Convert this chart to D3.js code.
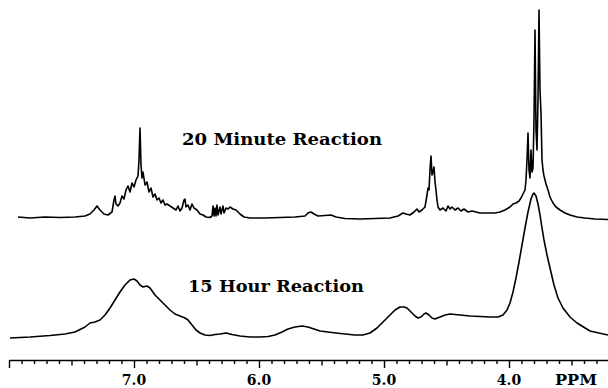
<!DOCTYPE html>
<html><head><meta charset="utf-8">
<script src="https://cdn.jsdelivr.net/npm/d3@7"></script>
<style>body{margin:0;background:#fff}svg{display:block}</style>
</head><body>
<script>
// ---- Data (chemical shift in ppm, intensity in arbitrary units above trace baseline) ----
const ppm20min = [7.928,7.832,7.712,7.592,7.472,7.392,7.352,7.320,7.296,7.272,7.240,7.208,7.176,7.160,7.152,7.144,7.128,7.112,7.096,7.080,7.064,7.048,7.032,7.016,7.000,6.984,6.968,6.960,6.952,6.944,6.936,6.928,6.912,6.896,6.880,6.864,6.848,6.832,6.816,6.800,6.784,6.768,6.752,6.736,6.712,6.688,6.664,6.648,6.632,6.616,6.600,6.592,6.584,6.568,6.552,6.536,6.520,6.496,6.472,6.448,6.424,6.392,6.376,6.368,6.360,6.352,6.344,6.336,6.328,6.312,6.304,6.288,6.280,6.264,6.248,6.232,6.208,6.184,6.152,6.120,6.072,5.952,5.832,5.712,5.632,5.608,5.584,5.560,5.528,5.472,5.424,5.384,5.312,5.192,5.072,4.952,4.888,4.848,4.824,4.792,4.760,4.736,4.720,4.696,4.672,4.656,4.648,4.640,4.632,4.624,4.616,4.608,4.600,4.592,4.584,4.576,4.568,4.552,4.528,4.504,4.488,4.472,4.456,4.432,4.408,4.384,4.360,4.328,4.296,4.264,4.232,4.192,4.152,4.112,4.072,4.032,3.992,3.968,3.944,3.920,3.904,3.888,3.872,3.864,3.856,3.848,3.840,3.832,3.824,3.816,3.808,3.800,3.792,3.784,3.776,3.768,3.760,3.752,3.744,3.736,3.728,3.720,3.704,3.688,3.672,3.648,3.624,3.592,3.552,3.512,3.456,3.392,3.312,3.208];
const int20min = [0,-1,0,-0.5,0,1,3,7,11,7,3,2,5,17,21,13,11,14,21,18,27,31,25,34,30,37,41,57,89,52,39,45,32,35,25,29,20,23,17,19,14,17,12,13,11,9,7,11,6,9,17,18,10,12,7,13,9,7,3,2,0,-0.5,1,11,1,9,1,12,2,10,3,11,4,9,8,10,8,7,3,0,-1,-1,-0.5,0,1,4,5,3,1,1.5,2,0,-1.5,-2,-1.5,-1,1,4,3,2,5,8,5,7,10,22,29,27,47,61,42,45,50,35,27,17,10,7,9,6,11,8,10,7,9,6,8,5,6,5,4,4,4,4,5,7,10,13,14,16,19,23,27,37,57,84,47,39,67,45,49,97,187,87,67,117,207,127,104,57,47,41,33,27,20,14,10,7,4,2,0,-1,-2,-2.5];

const ppm15hr = [7.992,7.832,7.672,7.552,7.472,7.392,7.352,7.312,7.272,7.232,7.192,7.152,7.112,7.072,7.032,7.000,6.976,6.952,6.928,6.896,6.872,6.832,6.792,6.752,6.712,6.672,6.632,6.592,6.568,6.536,6.504,6.472,6.432,6.392,6.352,6.312,6.264,6.216,6.152,6.072,5.992,5.928,5.872,5.816,5.768,5.712,5.656,5.608,5.560,5.512,5.448,5.384,5.312,5.232,5.168,5.112,5.056,5.008,4.960,4.912,4.872,4.840,4.816,4.784,4.752,4.728,4.704,4.680,4.664,4.640,4.616,4.592,4.552,4.512,4.472,4.392,4.312,4.232,4.152,4.088,4.048,4.016,3.992,3.968,3.944,3.920,3.896,3.872,3.848,3.824,3.808,3.800,3.784,3.768,3.752,3.736,3.720,3.696,3.672,3.640,3.608,3.568,3.512,3.456,3.352,3.208];
const int15hr = [0,1,2.5,4,6,11,15,16,18,23,30,38,46,53,58,59,57,53,51,52,50,43,38,33,28,24,22,20,18,13,8,5,3,2.5,3.5,4,5,3.5,2,1,1,1.5,3,6,9,11,12,11,9,7,6,5,4,3,3,5,10,16,22,28,31,31,30,26,22,20,21,24,25,23,20,19,21,23,24,23,22,21.5,21,21,23,28,35,46,60,76,93,110,126,139,144,145,142,134,123,110,98,83,70,53,40,30,21,15,7,3];

const traceNames = ["20 Minute Reaction", "15 Hour Reaction"];
const traceOffsets = [143, 22];   // vertical stacking offset of each trace (intensity units)
const majorTicks = [7.0, 6.0, 5.0, 4.0];
const tickLabels = ["7.0", "6.0", "5.0", "4.0"];
const axisUnit = "PPM";

// ---- Chart ----
const W = 608, H = 388;
const svg = d3.select("body").append("svg").attr("width", W).attr("height", H);

const x = d3.scaleLinear().domain([8.0, 3.2]).range([9, 609]);
const y = d3.scaleLinear().domain([0, 350]).range([360, 10]);

const traces = [
  {ppm: ppm20min, val: int20min, off: traceOffsets[0]},
  {ppm: ppm15hr, val: int15hr, off: traceOffsets[1]}
];

const line = d3.line().x(d => x(d[0])).y(d => y(d[1]));
traces.forEach(t => {
  const pts = t.ppm.map((p, i) => [p, t.val[i] + t.off]);
  svg.append("path").attr("d", line(pts))
    .attr("fill", "none").attr("stroke", "#000")
    .attr("stroke-width", 1.6).attr("stroke-linejoin", "round");
});

// Axis: minor ticks every 0.1, medium at .5, major at integers
const allTicks = d3.range(33, 81).map(v => v / 10);
const axis = d3.axisBottom(x).tickValues(allTicks).tickFormat("")
  .tickSizeOuter(0).tickSizeInner(4);
const gAx = svg.append("g").attr("transform", "translate(0,360)").call(axis);
gAx.select(".domain").attr("stroke", "#000").attr("stroke-width", 1.7);
gAx.selectAll(".tick line").attr("stroke", "#000").attr("stroke-width", 1.4)
  .attr("y2", d => {
    const r = Math.round(d * 10);
    return r % 10 === 0 ? 8 : (r % 5 === 0 ? 5.5 : 4);
  });

const labelFont = "'DejaVu Serif', 'Liberation Serif', serif";
svg.append("g").selectAll("text").data(majorTicks).join("text")
  .attr("x", d => x(d)).attr("y", 385)
  .attr("text-anchor", "middle")
  .attr("font-family", labelFont).attr("font-weight", "bold").attr("font-size", 14)
  .text((d, i) => tickLabels[i]);

svg.append("text").attr("x", 555).attr("y", 385)
  .attr("font-family", labelFont).attr("font-weight", "bold").attr("font-size", 14)
  .attr("textLength", 42).attr("lengthAdjust", "spacingAndGlyphs")
  .text(axisUnit);

svg.append("text").attr("x", 182).attr("y", 145)
  .attr("font-family", labelFont).attr("font-weight", "bold").attr("font-size", 17)
  .attr("textLength", 200).attr("lengthAdjust", "spacingAndGlyphs")
  .text(traceNames[0]);
svg.append("text").attr("x", 188).attr("y", 292)
  .attr("font-family", labelFont).attr("font-weight", "bold").attr("font-size", 17)
  .attr("textLength", 176).attr("lengthAdjust", "spacingAndGlyphs")
  .text(traceNames[1]);
</script>
</body></html>
